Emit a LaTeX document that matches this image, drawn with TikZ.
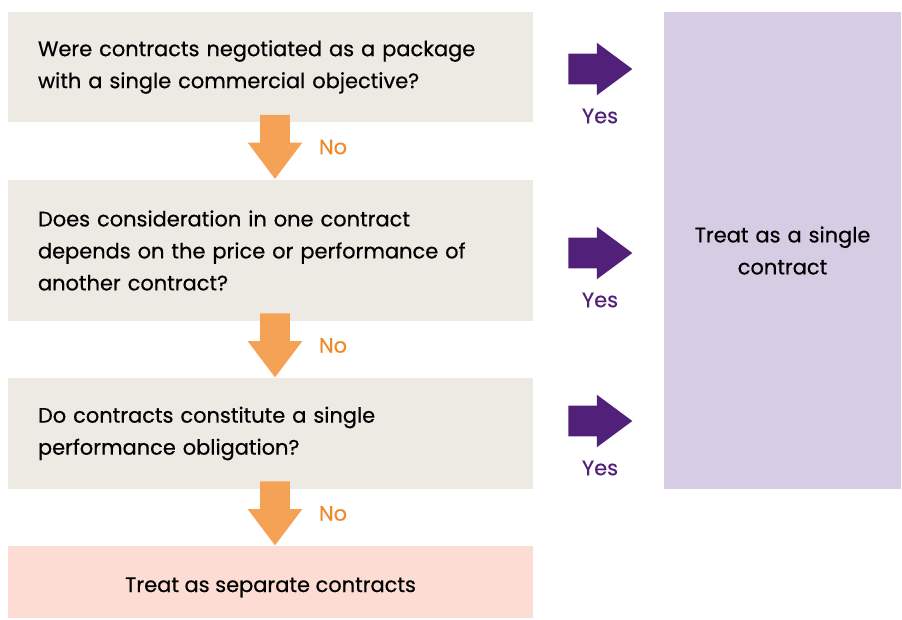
\documentclass[tikz,border=0pt]{standalone}
\usepackage{fontspec}
\setmainfont{Poppins}[UprightFeatures={FakeBold=0.5}]
\usetikzlibrary{shapes.arrows}

\definecolor{qbeige}{HTML}{EDEAE4}
\definecolor{qlilac}{HTML}{D6CDE5}
\definecolor{qpink}{HTML}{FCDCD3}
\definecolor{qorange}{HTML}{F5A257}
\definecolor{qnotext}{HTML}{EE8A2B}
\definecolor{qpurple}{HTML}{51217A}

\tikzset{
  qbox/.style={fill=qbeige, inner xsep=22.5pt, text width=348.75pt, align=left},
  resbox/.style={fill=qpink, minimum width=393.75pt, minimum height=54pt, align=center},
  onebox/.style={fill=qlilac, minimum width=177.75pt, minimum height=357.75pt,
    text width=150pt, align=center},
  yesarrow/.style={single arrow, fill=qpurple, minimum height=48pt,
    inner xsep=0pt, inner ysep=11.25pt,
    single arrow head extend=8.25pt, single arrow tip angle=73},
  noarrow/.style={single arrow, fill=qorange, minimum height=48pt,
    inner xsep=0pt, inner ysep=10.9pt,
    single arrow head extend=9.4pt, single arrow tip angle=74, rotate=-90},
  yeslbl/.style={text=qpurple},
  nolbl/.style={text=qnotext},
}

\begin{document}
\begin{tikzpicture}[x=0.75pt, y=-0.75pt, font=\fontsize{15.7}{24}\selectfont]

\useasboundingbox (0,0) rectangle (902,619);

% questions
\node[qbox, minimum height=82.5pt] (q1) at (270.5,67)
  {Were contracts negotiated as a package\\with a single commercial objective?};
\node[qbox, minimum height=105.75pt] (q2) at (270.5,250.5)
  {Does consideration in one contract\\depends on the price or performance of\\another contract?};
\node[qbox, minimum height=83.25pt] (q3) at (270.5,433.5)
  {Do contracts constitute a single\\performance obligation?};

% outcomes
\node[resbox] (sep) at (270.5,582) {\smash{\raisebox{-7.5pt}{Treat as separate contracts}}};
\node[onebox] (one) at (782.5,250.5) {Treat as a single\\contract};

% yes / no arrows
\foreach \y [count=\k] in {69,253,421} {
  \node[yesarrow] (yes\k) at (590,\y) {};
  \node[yeslbl] (yeslbl\k) at (600,\y+47) {Yes};
}
\foreach \y [count=\k] in {147,345.5,513.5} {
  \node[noarrow] (no\k) at (275,\y-10) {};
  \node[nolbl] (nolbl\k) at (333,\y) {No};
}

\end{tikzpicture}
\end{document}
